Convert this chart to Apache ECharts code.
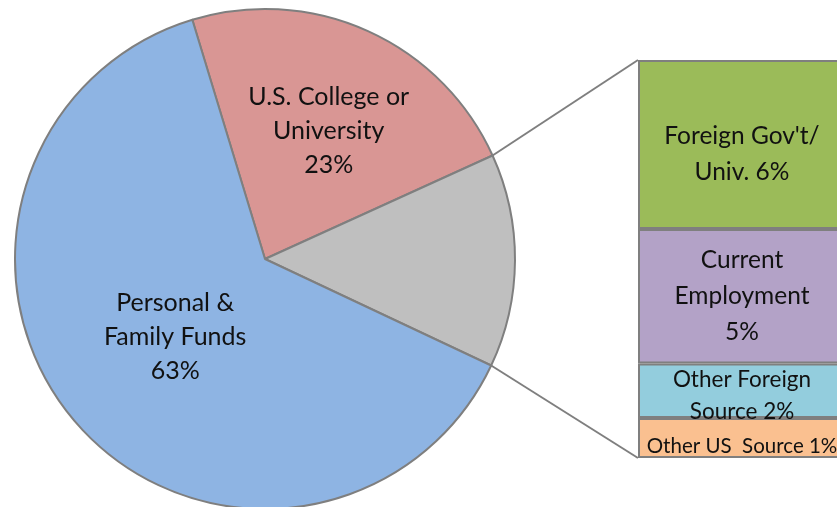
<!DOCTYPE html>
<html>
<head>
<meta charset="utf-8">
<script src="https://cdn.jsdelivr.net/npm/echarts@6/dist/echarts.min.js"></script>
<style>
  html, body { margin: 0; padding: 0; background: #fff; }
  #main { width: 837px; height: 507px; }
</style>
</head>
<body>
<div id="main"></div>
<script>
// pie slices (clockwise from the top-left)
const pieNames = ['U.S. College or\nUniversity\n23%', 'Other', 'Personal &\nFamily Funds\n63%']
const pieValues = [22.9, 13.8, 63.3]
const pieColors = ['#D99694', '#BFBFBF', '#8EB4E3']

// breakdown of the "Other" slice, top to bottom
const barNames = ["Foreign Gov't/\nUniv. 6%", 'Current\nEmployment\n5%', 'Other Foreign\nSource 2%', 'Other US  Source 1%']
const barValues = [5.9, 4.7, 1.9, 1.4]
const barColors = ['#9BBB59', '#B3A2C7', '#93CDDD', '#FAC090']

const cx = 265, cy = 259, r = 250
const startAngle = 106.9
// the bar runs past the right edge of the picture
const grid = { left: 638, top: 60, width: 224, height: 398, outerBoundsMode: 'none' }

// label tweaks: font size and offset for each text
const pieLabelOff = [[11, -11], [0, 0], [7, -6]]
const barFont = [24.5, 24.5, 22.5, 20.5]
const barLabelOff = [[-8, 10], [-8, 0], [-8, 5], [-8, 8]]

let dom = document.getElementById('main')
let myChart = echarts.init(dom)

// ends of the connector lines: edges of the grey slice and corners of the bar
const total = pieValues.reduce((a, b) => a + b, 0)
const a1 = (startAngle - 360 * pieValues[0] / total) * Math.PI / 180
const a2 = (startAngle - 360 * (pieValues[0] + pieValues[1]) / total) * Math.PI / 180
const p1 = [cx + r * Math.cos(a1), cy - r * Math.sin(a1)]
const p2 = [cx + r * Math.cos(a2), cy - r * Math.sin(a2)]

const barSeries = barValues.map((v, i) => ({
    type: 'bar',
    stack: 'other',
    barWidth: '100%',
    data: [v],
    itemStyle: { color: barColors[i], borderColor: '#7F7F7F', borderWidth: 2 },
    label: {
        show: true,
        position: 'inside',
        formatter: barNames[i],
        offset: barLabelOff[i],
        color: '#111',
        fontFamily: 'Lato',
        fontSize: barFont[i],
        lineHeight: i < 2 ? 36 : 32
    },
    silent: true
}))

var option = {
    animation: false,
    grid: grid,
    xAxis: { type: 'category', data: ['Other'], show: false },
    yAxis: {
        type: 'value', show: false, inverse: true,
        min: 0, max: barValues.reduce((a, b) => a + b, 0)
    },
    series: [{
        type: 'pie',
        center: [cx, cy],
        radius: r,
        startAngle: startAngle,
        clockwise: true,
        silent: true,
        data: pieValues.map((v, i) => ({
            value: v,
            name: pieNames[i],
            itemStyle: { color: pieColors[i] },
            label: { show: i !== 1, offset: pieLabelOff[i] }
        })),
        itemStyle: { borderColor: '#7F7F7F', borderWidth: 2 },
        label: {
            position: 'inside',
            formatter: '{b}',
            color: '#111',
            fontFamily: 'Lato',
            fontSize: 25,
            lineHeight: 34
        },
        labelLine: { show: false }
    }].concat(barSeries),
    graphic: [
        { type: 'line', shape: { x1: p1[0], y1: p1[1], x2: grid.left, y2: grid.top }, style: { stroke: '#7F7F7F', lineWidth: 2 } },
        { type: 'line', shape: { x1: p2[0], y1: p2[1], x2: grid.left, y2: grid.top + grid.height }, style: { stroke: '#7F7F7F', lineWidth: 2 } }
    ]
}
myChart.setOption(option)
</script>
</body>
</html>
